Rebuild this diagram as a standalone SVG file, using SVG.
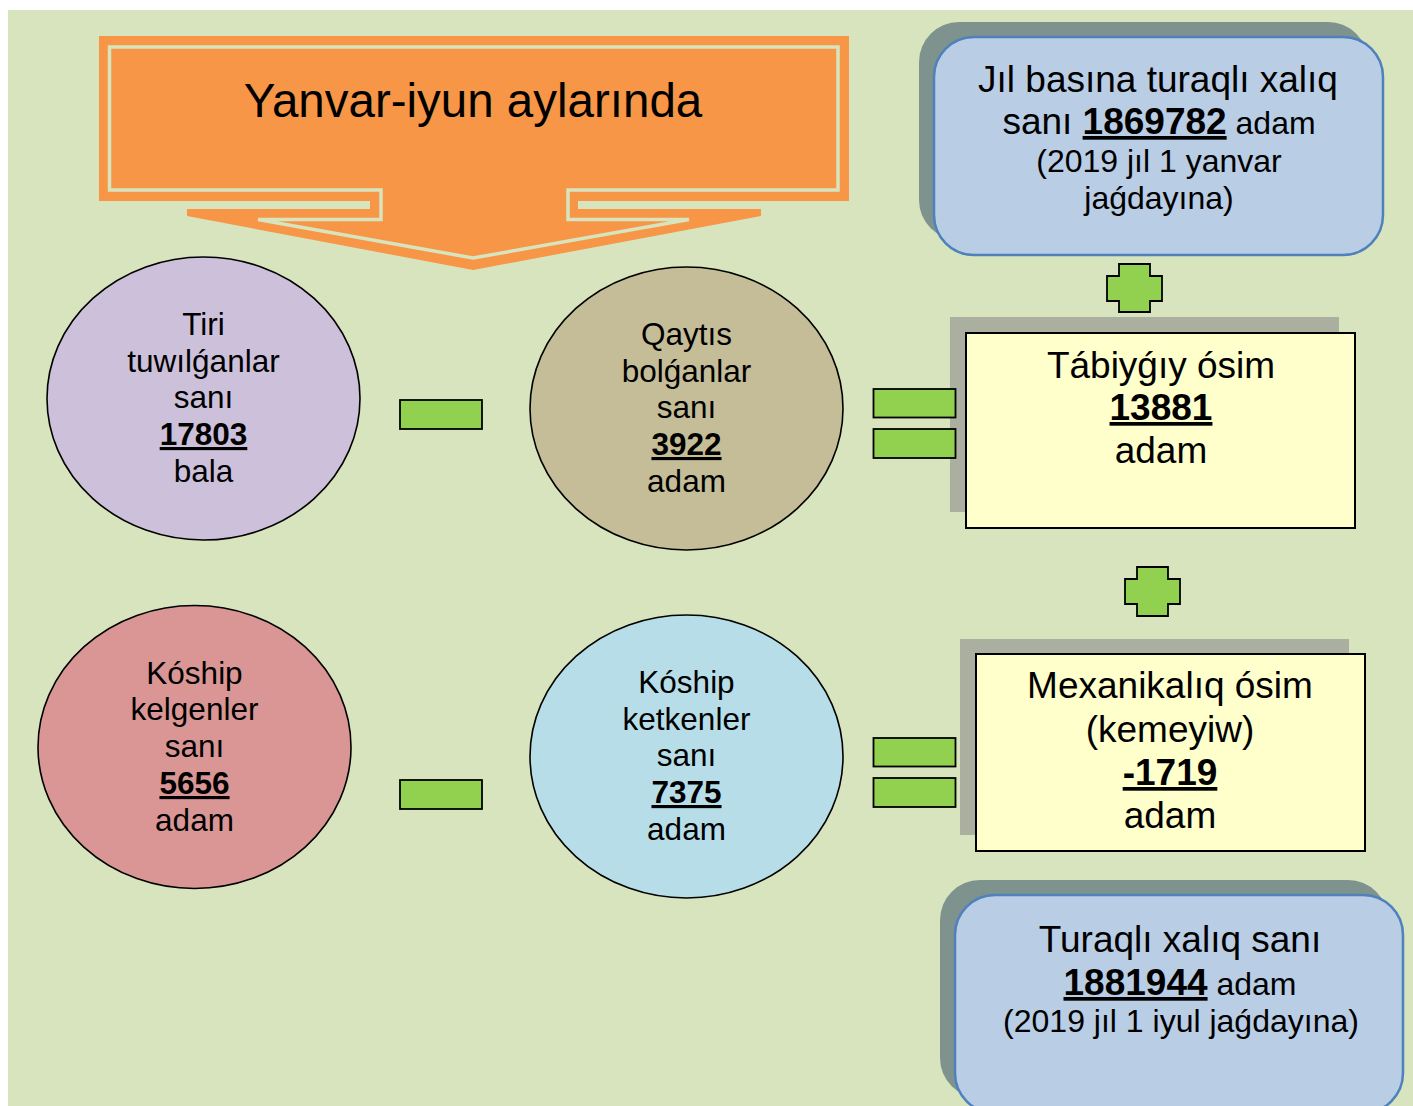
<svg xmlns="http://www.w3.org/2000/svg" width="1413" height="1106" viewBox="0 0 1413 1106">
<style>
  text { font-family: "Liberation Sans", Arial, sans-serif; fill: #000; text-anchor: middle; }
  .ell { stroke: #000; stroke-width: 1.6; }
  .op { fill: #92D050; stroke: #000; stroke-width: 1.8; }
  .ybox { fill: #FFFFCC; stroke: #000; stroke-width: 2; }
  .yshadow { fill: #ABAF9F; }
  .bbox { fill: #B9CDE5; stroke: #4F81BD; stroke-width: 2.5; }
  .bshadow { fill: #7F938E; }
  .t30 { font-size: 31.5px; }
  .t37 { font-size: 37px; }
  .s32 { font-size: 32px; }
  .num { font-weight: bold; text-decoration: underline; text-decoration-thickness: 3px; }
</style>
<rect x="8" y="10" width="1405" height="1096" fill="#D7E4BD"/>

<g id="title">
  <path d="M99,36 H849 V201 H578 V209 H761 V216 L473,270 L187,216 V209 H370 V201 H99 Z" fill="#F79646"/>
  <path d="M109.5,47 H838 V190 H568 V219.5 H689 L473,258 L258,219.5 H381 V190 H109.5 Z" fill="none" stroke="#D7E4BD" stroke-width="3.5"/>
  <text x="473" y="117" style="font-size:47.5px">Yanvar-iyun aylarında</text>
</g>

<g id="born">
  <ellipse class="ell" cx="203.5" cy="398.5" rx="156.5" ry="141.5" fill="#CCC0DA"/>
  <text class="t30" x="203.5" y="335">Tiri</text>
  <text class="t30" x="203.5" y="372">tuwılǵanlar</text>
  <text class="t30" x="203.5" y="408">sanı</text>
  <text class="t30 num" x="203.5" y="445">17803</text>
  <text class="t30" x="203.5" y="482">bala</text>
</g>

<g id="died">
  <ellipse class="ell" cx="686.5" cy="408.5" rx="156.5" ry="141.5" fill="#C4BD97"/>
  <text class="t30" x="686.5" y="345">Qaytıs</text>
  <text class="t30" x="686.5" y="382">bolǵanlar</text>
  <text class="t30" x="686.5" y="418">sanı</text>
  <text class="t30 num" x="686.5" y="455">3922</text>
  <text class="t30" x="686.5" y="492">adam</text>
</g>

<g id="arrived">
  <ellipse class="ell" cx="194.5" cy="747" rx="156.5" ry="141.5" fill="#D99694"/>
  <text class="t30" x="194.5" y="684">Kóship</text>
  <text class="t30" x="194.5" y="720">kelgenler</text>
  <text class="t30" x="194.5" y="757">sanı</text>
  <text class="t30 num" x="194.5" y="794">5656</text>
  <text class="t30" x="194.5" y="831">adam</text>
</g>

<g id="left">
  <ellipse class="ell" cx="686.5" cy="756.5" rx="156.5" ry="141.5" fill="#B7DEE8"/>
  <text class="t30" x="686.5" y="693">Kóship</text>
  <text class="t30" x="686.5" y="730">ketkenler</text>
  <text class="t30" x="686.5" y="766">sanı</text>
  <text class="t30 num" x="686.5" y="803">7375</text>
  <text class="t30" x="686.5" y="840">adam</text>
</g>

<g id="start-population">
  <rect class="bshadow" x="919" y="22" width="449" height="218" rx="40"/>
  <rect class="bbox" x="934" y="37" width="449" height="218" rx="40"/>
  <text class="t37" x="1158" y="92">Jıl basına turaqlı xalıq</text>
  <text x="1159" y="134"><tspan class="t37">sanı </tspan><tspan class="t37 num">1869782</tspan><tspan class="s32"> adam</tspan></text>
  <text class="s32" x="1159" y="172">(2019 jıl 1 yanvar</text>
  <text class="s32" x="1159" y="209">jaǵdayına)</text>
</g>

<g id="natural-growth">
  <rect class="yshadow" x="950" y="317" width="389" height="195"/>
  <rect class="ybox" x="966" y="333" width="389" height="195"/>
  <text class="t37" x="1161" y="378">Tábiyǵıy ósim</text>
  <text class="t37 num" x="1161" y="420">13881</text>
  <text class="t37" x="1161" y="463">adam</text>
</g>

<g id="mechanical-growth">
  <rect class="yshadow" x="960" y="639" width="389" height="196"/>
  <rect class="ybox" x="976" y="654" width="389" height="197"/>
  <text class="t37" x="1170" y="698">Mexanikalıq ósim</text>
  <text class="t37" x="1170" y="742">(kemeyiw)</text>
  <text class="t37 num" x="1170" y="785">-1719</text>
  <text class="t37" x="1170" y="828">adam</text>
</g>

<g id="end-population">
  <rect class="bshadow" x="940" y="880" width="448" height="218" rx="40"/>
  <rect class="bbox" x="955" y="895" width="448" height="218" rx="40"/>
  <text class="t37" x="1180" y="952">Turaqlı xalıq sanı</text>
  <text x="1180" y="995"><tspan class="t37 num">1881944</tspan><tspan class="s32"> adam</tspan></text>
  <text class="s32" x="1181" y="1032">(2019 jıl 1 iyul jaǵdayına)</text>
</g>

<g id="operators">
  <rect class="op" x="400" y="400" width="82" height="29"/>
  <rect class="op" x="400" y="780" width="82" height="29"/>
  <rect class="op" x="873.5" y="389" width="82" height="28.5"/>
  <rect class="op" x="873.5" y="429" width="82" height="29"/>
  <rect class="op" x="873.5" y="738" width="82" height="28.5"/>
  <rect class="op" x="873.5" y="778" width="82" height="29"/>
  <path class="op" d="M1119,264 H1150 V276 H1162 V301 H1150 V312 H1119 V301 H1107 V276 H1119 Z"/>
  <path class="op" d="M1137,567 H1168 V579 H1180 V604 H1168 V616 H1137 V604 H1125 V579 H1137 Z"/>
</g>
</svg>
